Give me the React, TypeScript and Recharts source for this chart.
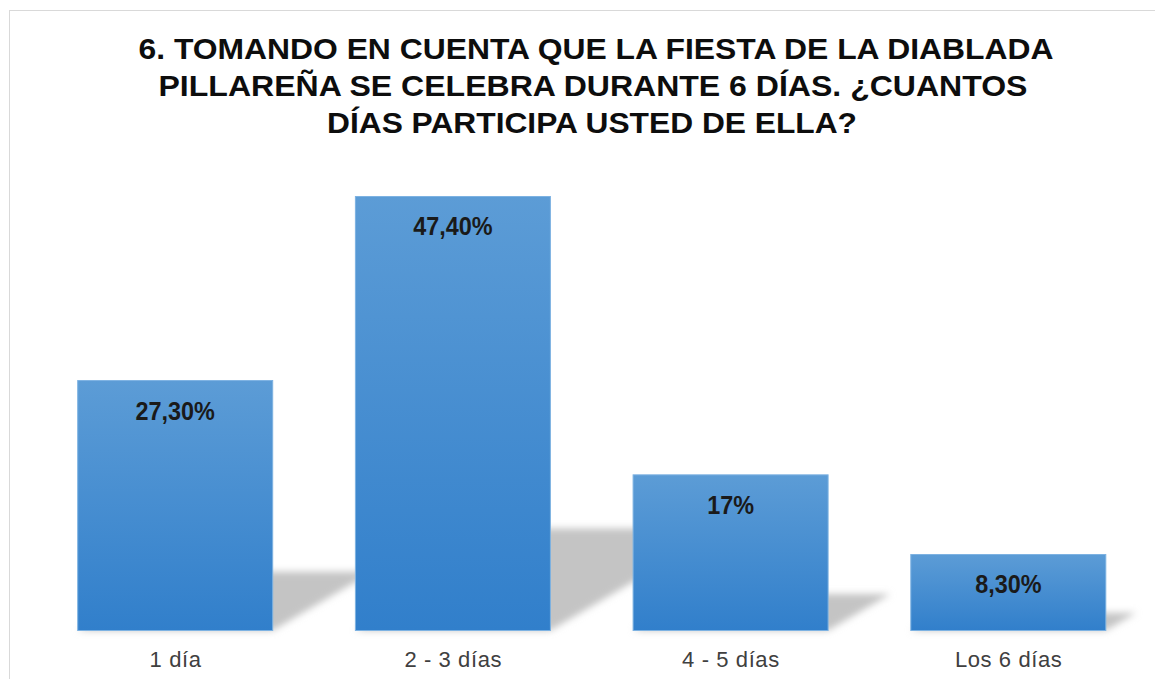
import React from 'react';
import { BarChart, Bar, XAxis, YAxis, LabelList } from 'recharts';

const categories = ['1 día', '2 - 3 días', '4 - 5 días', 'Los 6 días'];
const values = [27.3, 47.4, 17, 8.3];
const valueLabels = ['27,30%', '47,40%', '17%', '8,30%'];
const titleLines = [
  '6. TOMANDO EN CUENTA QUE LA FIESTA DE LA DIABLADA',
  'PILLAREÑA SE CELEBRA DURANTE 6 DÍAS. ¿CUANTOS',
  'DÍAS PARTICIPA USTED DE ELLA?',
];

const data = categories.map((c, i) => ({ name: c, value: values[i], label: valueLabels[i] }));

const W = 1155;
const H = 671;
const FONT = '"Liberation Sans", Arial, sans-serif';

function BarWithShadow(props: any) {
  const { x, y, width, height } = props;
  const base = y + height;
  const dx = height * 0.4;
  const dy = height * 0.235;
  return (
    <g>
      <polygon
        points={`${x},${base} ${x + width},${base} ${x + width + dx},${base - dy} ${x + dx},${base - dy}`}
        fill="#c4c4c4"
        filter="url(#shadowBlur)"
      />
      <rect x={x} y={y} width={width} height={height} fill="url(#barGrad)" stroke="#7db2e2" strokeWidth={1} />
    </g>
  );
}

function ValueLabel(props: any) {
  const { x, y, width, value } = props;
  const cx = x + width / 2;
  return (
    <text
      x={cx}
      y={y + 39}
      textAnchor="middle"
      fontFamily={FONT}
      fontWeight="bold"
      fontSize={26}
      fill="#1a1a1a"
      transform={`translate(${cx},0) scale(0.9,1) translate(${-cx},0)`}
    >
      {value}
    </text>
  );
}

function CatTick(props: any) {
  const { x, y, payload } = props;
  return (
    <text
      x={x}
      y={y}
      dy={36.5}
      textAnchor="middle"
      fontFamily={FONT}
      fontSize={22}
      letterSpacing={0.6}
      fill="#404040"
    >
      {payload.value}
    </text>
  );
}

const titleY = [51, 88, 125];
const titleX = [588, 585, 584];
const titleLen = [915, 869, 530];

export default function App() {
  return (
    <div style={{ position: 'relative', width: W, height: H, background: '#fff' }}>
      <BarChart
        width={W}
        height={H}
        data={data}
        margin={{ top: 164.7, left: 28.7, right: 15.5, bottom: 18.5 }}
        barSize={195}
      >
        <defs>
          <linearGradient id="barGrad" x1="0" y1="0" x2="0" y2="1">
            <stop offset="0%" stopColor="#5c9cd6" />
            <stop offset="100%" stopColor="#317fcb" />
          </linearGradient>
          <filter id="shadowBlur" x="-50%" y="-50%" width="200%" height="200%">
            <feGaussianBlur stdDeviation="3.5" />
          </filter>
        </defs>
        <XAxis
          dataKey="name"
          axisLine={false}
          tickLine={false}
          tickSize={0}
          tickMargin={0}
          height={30}
          interval={0}
          tick={<CatTick />}
        />
        <YAxis hide width={0} domain={[0, 50]} />
        <Bar dataKey="value" shape={<BarWithShadow />} isAnimationActive={false}>
          <LabelList dataKey="label" content={<ValueLabel />} />
        </Bar>
      </BarChart>
      <svg
        width={W}
        height={H}
        style={{ position: 'absolute', left: 0, top: 0, pointerEvents: 'none' }}
      >
        <rect x={1.5} y={2.5} width={W + 20} height={H + 20} fill="none" stroke="#d9d9d9" strokeWidth={1} />
        {titleLines.map((t, i) => (
          <text
            key={i}
            x={titleX[i]}
            y={titleY[i]}
            textAnchor="middle"
            fontFamily={FONT}
            fontWeight="bold"
            fontSize={30}
            fill="#0d0d0d"
            textLength={titleLen[i]}
            lengthAdjust="spacingAndGlyphs"
          >
            {t}
          </text>
        ))}
      </svg>
    </div>
  );
}
